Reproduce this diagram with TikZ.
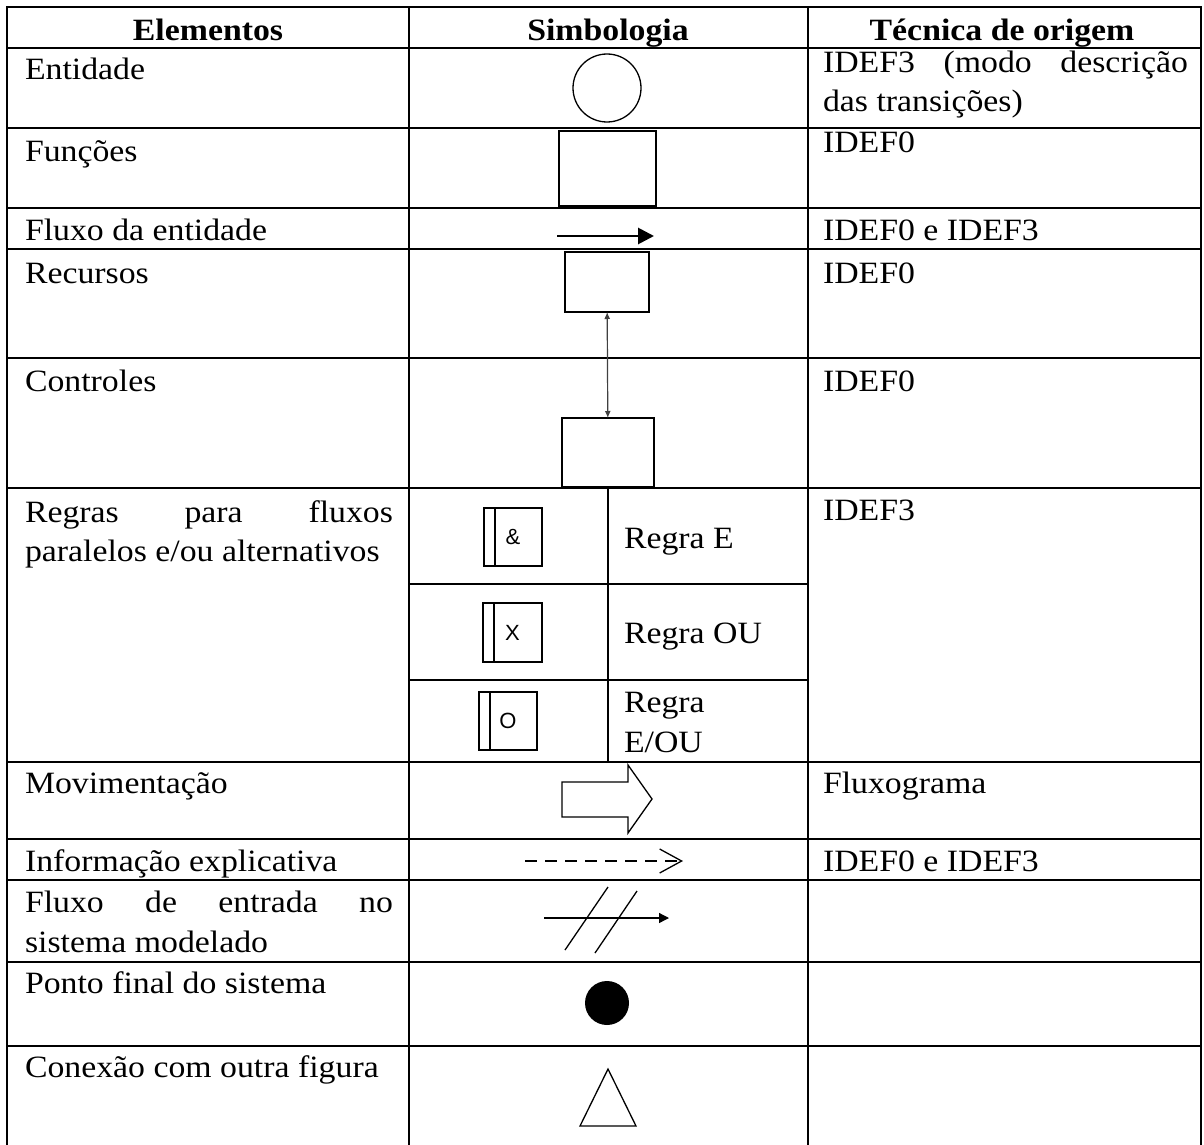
\documentclass[tikz,border=0pt]{standalone}
\usepackage{fontspec}
\setmainfont{Liberation Serif}[FakeStretch=1.09]
\newfontfamily\glyphfont{Liberation Sans}
\usetikzlibrary{arrows.meta}
\newcommand\bodysize{\fontsize{31pt}{39pt}\selectfont}
\newcommand\rulesize{\glyphfont\fontsize{22pt}{26pt}\selectfont}

\begin{document}
\begin{tikzpicture}[x=1pt,y=-1pt,
  every node/.style={inner sep=0pt, outer sep=0pt},
  grid/.style={line width=1.8pt, line cap=rect},
  sym/.style={draw, line width=1.3pt},
  symline/.style={line width=1.3pt},
  txt/.style={anchor=base west, font=\bodysize},
  hdr/.style={anchor=base, font=\bodysize\bfseries},
  rulebox/.style={sym, minimum size=58pt, font=\rulesize},
]
\useasboundingbox (0,0) rectangle (1204,1145);

% ---- table grid ----
\foreach \gx in {7,409,808,1201}
  \draw[grid] (\gx,7) -- (\gx,1145);
\foreach \gy in {7,48,128,208,249,358,488,762,839,880,962,1046}
  \draw[grid] (7,\gy) -- (1201,\gy);
\draw[grid] (409,584) -- (808,584);
\draw[grid] (409,680) -- (808,680);
\draw[grid] (608,488) -- (608,762);

% ---- header ----
\node[hdr] (h1) at (208,41) {Elementos};
\node[hdr] (h2) at (608,41) {Simbologia};
\node[hdr] (h3) at (1002,41) {Técnica de origem};

% ---- first column ----
\node[txt] (e1) at (25,80) {Entidade};
\node[txt] (e2) at (25,161) {Funções};
\node[txt] (e3) at (25,240) {Fluxo da entidade};
\node[txt] (e4) at (25,283) {Recursos};
\node[txt] (e5) at (25,391) {Controles};
\node[txt] (e6a) at (25,522) {\hbox to 368pt{Regras\hfill para\hfill fluxos}};
\node[txt] (e6b) at (25,561) {paralelos e/ou alternativos};
\node[txt] (e7) at (25,793) {Movimentação};
\node[txt] (e8) at (25,871) {Informação explicativa};
\node[txt] (e9a) at (25,912) {\hbox to 368pt{Fluxo\hfill de\hfill entrada\hfill no}};
\node[txt] (e9b) at (25,952) {sistema modelado};
\node[txt] (e10) at (25,993) {Ponto final do sistema};
\node[txt] (e11) at (25,1077) {Conexão com outra figura};

% ---- third column ----
\node[txt] (t1a) at (823,73) {\hbox to 365pt{IDEF3\hfill (modo\hfill descrição}};
\node[txt] (t1b) at (823,112) {das transições)};
\node[txt] (t2) at (823,153) {IDEF0};
\node[txt] (t3) at (823,240) {IDEF0 e IDEF3};
\node[txt] (t4) at (823,283) {IDEF0};
\node[txt] (t5) at (823,391) {IDEF0};
\node[txt] (t6) at (823,520) {IDEF3};
\node[txt] (t7) at (823,793) {Fluxograma};
\node[txt] (t8) at (823,871) {IDEF0 e IDEF3};

% ---- symbols ----
% entity
\node[sym, circle, minimum size=68pt] (ent) at (607,88) {};
% function
\node[sym, minimum width=97pt, minimum height=75pt] (fun) at (607.5,168.5) {};
% entity flow
\coordinate (fa) at (557,236);
\coordinate (fb) at (654,236);
\draw[line width=2.8pt, -{Triangle[length=16pt,width=16pt]}] (fa) -- (fb);
% resources and controls
\node[sym, minimum width=84pt, minimum height=60pt] (rec) at (607,282) {};
\node[sym, minimum width=92pt, minimum height=69pt] (ctl) at (608,452.5) {};
\draw[line width=1.2pt, black!75, {Latex[length=7pt,width=6pt]}-{Latex[length=7pt,width=6pt]}] (rec) -- (ctl);

% junction rules
\node[rulebox] (rand) at (513,537) {\&};
\draw[symline] ([xshift=11pt]rand.north west) -- ([xshift=11pt]rand.south west);
\node[txt] (rl1) at (624,548) {Regra E};
\node[rulebox, minimum size=59pt] (rxor) at (512.5,632.5) {X};
\draw[symline] ([xshift=11pt]rxor.north west) -- ([xshift=11pt]rxor.south west);
\node[txt] (rl2) at (624,643) {Regra OU};
\node[rulebox] (ror) at (508,721) {O};
\draw[symline] ([xshift=11pt]ror.north west) -- ([xshift=11pt]ror.south west);
\node[txt] (rl3a) at (624,712) {Regra};
\node[txt] (rl3b) at (624,752) {E/OU};

% movement (block arrow)
\draw[symline, line join=miter] (562,782) -- (628,782) -- (628,765) -- (652,799)
  -- (628,833) -- (628,817) -- (562,817) -- cycle;

% explanatory information
\coordinate (da) at (525,861);
\coordinate (db) at (683,861);
\draw[symline, dash pattern=on 12pt off 8pt, -{Straight Barb[length=22pt,width=24pt]}] (da) -- (db);

% input flow
\coordinate (ia) at (544,918);
\coordinate (ib) at (669,918);
\draw[symline, -{Triangle[length=10pt,width=10pt]}] (ia) -- (ib);
\draw[symline] (565,950) -- (608,887);
\draw[symline] (595,953) -- (637,891);

% end point
\node[circle, fill=black, minimum size=44pt] (dot) at (607,1003) {};

% connector to another figure
\draw[symline, line join=miter] (608,1069) -- (636,1126) -- (580,1126) -- cycle;
\end{tikzpicture}
\end{document}
